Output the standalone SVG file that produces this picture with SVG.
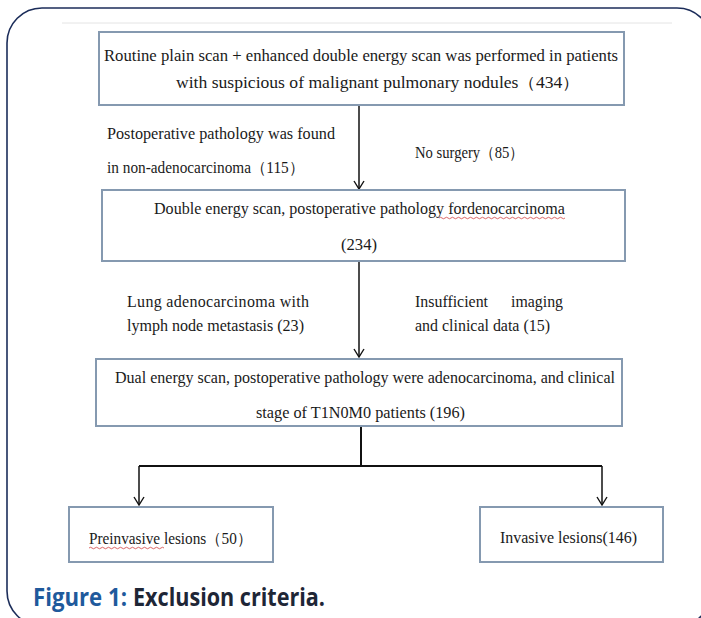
<svg xmlns="http://www.w3.org/2000/svg" width="701" height="618" viewBox="0 0 701 618">
<style>
.frame{fill:none;stroke:#1c2d5a;stroke-width:1.6}
.box{fill:#ffffff;stroke:#8599b0;stroke-width:2}
.t{font-family:'Liberation Serif','Times New Roman','DejaVu Serif',serif;font-size:16px;fill:#1a1a1a}
.ln{fill:none;stroke:#111111;stroke-width:1.5}
.wavy{fill:none;stroke:#d04040;stroke-width:0.8}
.cap{font-family:'Open Sans','Liberation Sans',sans-serif;font-weight:bold;font-size:25px}
</style>
<defs>
<marker id="ah" viewBox="0 0 12 12" refX="11" refY="6" markerWidth="12" markerHeight="12" markerUnits="userSpaceOnUse" orient="auto">
<path d="M3,1 L11,6 L3,11" fill="none" stroke="#111111" stroke-width="1.4"/>
</marker>
</defs>
<rect width="701" height="618" fill="#ffffff"/>
<rect class="frame" x="7" y="8" width="705" height="618" rx="35" ry="35"/>
<line x1="62" y1="23" x2="672" y2="23" stroke="#e4e4e4" stroke-width="1"/>

<g id="connectors">
<line class="ln" x1="359" y1="105" x2="359" y2="189" marker-end="url(#ah)"/>
<line class="ln" x1="359" y1="261" x2="359" y2="357" marker-end="url(#ah)"/>
<polyline class="ln" points="361,426 361,466" style="stroke-width:2"/>
<polyline class="ln" points="139,466 602,466" style="stroke-width:2"/>
<line class="ln" x1="139" y1="466" x2="139" y2="505" marker-end="url(#ah)"/>
<line class="ln" x1="602" y1="466" x2="602" y2="505" marker-end="url(#ah)"/>
</g>

<g id="node-screening">
<rect class="box" x="99" y="32" width="525" height="73"/>
<text class="t" font-family="'Liberation Serif', serif" x="104" y="61" textLength="514" lengthAdjust="spacingAndGlyphs">Routine plain scan + enhanced double energy scan was performed in patients</text>
<text class="t" font-family="'Liberation Serif', 'Noto Sans CJK SC', serif" x="176" y="88" textLength="404" lengthAdjust="spacingAndGlyphs">with suspicious of malignant pulmonary nodules（434）</text>
</g>

<g id="label-excl1">
<text class="t" font-family="'Liberation Serif', serif" x="107" y="139" textLength="228" lengthAdjust="spacingAndGlyphs">Postoperative pathology was found</text>
<text class="t" font-family="'Liberation Serif', 'Noto Sans CJK SC', serif" x="107" y="173" textLength="197" lengthAdjust="spacingAndGlyphs">in non-adenocarcinoma（115）</text>
<text class="t" font-family="'Liberation Serif', 'Noto Sans CJK SC', serif" x="415" y="158" textLength="109" lengthAdjust="spacingAndGlyphs">No surgery（85）</text>
</g>

<g id="node-adeno">
<rect class="box" x="102" y="190" width="523" height="71"/>
<text class="t" font-family="'Liberation Serif', serif" x="154" y="214" textLength="411" lengthAdjust="spacingAndGlyphs">Double energy scan, postoperative pathology fordenocarcinoma</text>
<path class="wavy" d="M439,218 q1.5,-1.5 3,0 t3,0 t3,0 t3,0 t3,0 t3,0 t3,0 t3,0 t3,0 t3,0 t3,0 t3,0 t3,0 t3,0 t3,0 t3,0 t3,0 t3,0 t3,0 t3,0 t3,0 t3,0 t3,0 t3,0 t3,0 t3,0 t3,0 t3,0 t3,0 t3,0 t3,0 t3,0 t3,0 t3,0 t3,0 t3,0 t3,0 t3,0 t3,0 t3,0 t3,0 t3,0"/>
<text class="t" font-family="'Liberation Serif', serif" x="341" y="250" textLength="36" lengthAdjust="spacingAndGlyphs">(234)</text>
</g>

<g id="label-excl2">
<text class="t" font-family="'Liberation Serif', serif" x="127" y="307" textLength="182" lengthAdjust="spacing">Lung adenocarcinoma with</text>
<text class="t" font-family="'Liberation Serif', serif" x="127" y="331" textLength="177" lengthAdjust="spacingAndGlyphs">lymph node metastasis (23)</text>
<text class="t" font-family="'Liberation Serif', serif" x="415" y="307" textLength="73" lengthAdjust="spacingAndGlyphs">Insufficient</text>
<text class="t" font-family="'Liberation Serif', serif" x="511" y="307" textLength="52" lengthAdjust="spacingAndGlyphs">imaging</text>
<text class="t" font-family="'Liberation Serif', serif" x="415" y="331" textLength="135" lengthAdjust="spacingAndGlyphs">and clinical data (15)</text>
</g>

<g id="node-t1n0m0">
<rect class="box" x="96" y="359" width="526" height="67"/>
<text class="t" font-family="'Liberation Serif', serif" x="115" y="383" textLength="500" lengthAdjust="spacingAndGlyphs">Dual energy scan, postoperative pathology were adenocarcinoma, and clinical</text>
<text class="t" font-family="'Liberation Serif', serif" x="256" y="418" textLength="209" lengthAdjust="spacingAndGlyphs">stage of T1N0M0 patients (196)</text>
</g>

<g id="node-preinvasive">
<rect class="box" x="69" y="507" width="204" height="55"/>
<text class="t" font-family="'Liberation Serif', 'Noto Sans CJK SC', serif" x="89" y="544" textLength="163" lengthAdjust="spacingAndGlyphs">Preinvasive lesions（50）</text>
<path class="wavy" d="M89,548 q1.5,-1.5 3,0 t3,0 t3,0 t3,0 t3,0 t3,0 t3,0 t3,0 t3,0 t3,0 t3,0 t3,0 t3,0 t3,0 t3,0 t3,0 t3,0 t3,0 t3,0 t3,0 t3,0 t3,0 t3,0 t3,0 t3,0"/>
</g>

<g id="node-invasive">
<rect class="box" x="480" y="507" width="183" height="55"/>
<text class="t" font-family="'Liberation Serif', serif" x="500" y="543" textLength="137" lengthAdjust="spacingAndGlyphs">Invasive lesions(146)</text>
</g>

<text class="cap" x="33" y="606"><tspan fill="#1f5a9c" textLength="94" lengthAdjust="spacingAndGlyphs">Figure 1:</tspan></text>
<text class="cap" x="133" y="606" fill="#1e2636" textLength="192" lengthAdjust="spacingAndGlyphs">Exclusion criteria.</text>
</svg>
